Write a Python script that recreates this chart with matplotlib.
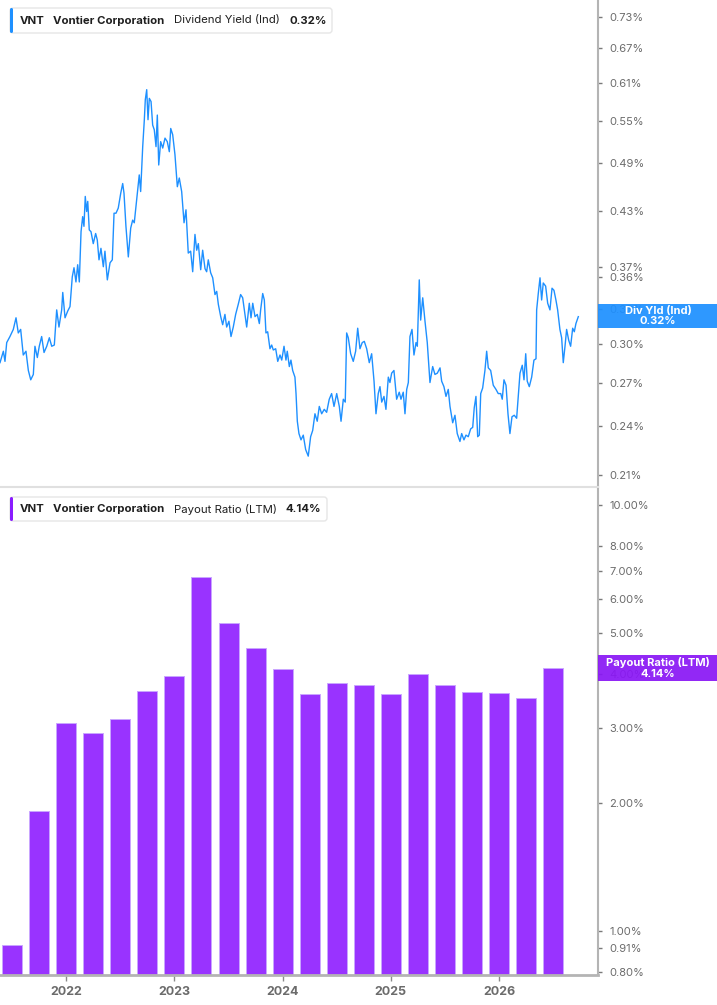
import matplotlib
matplotlib.use("Agg")
import matplotlib.pyplot as plt
from matplotlib.patches import Rectangle, FancyBboxPatch
from matplotlib.ticker import NullLocator
from matplotlib.transforms import IdentityTransform

plt.rcParams['font.family'] = ['Inter', 'DejaVu Sans']

# --- Dividend yield (Ind), % ; dates as decimal years
yield_dates = [
    2021.388, 2021.419, 2021.434, 2021.450, 2021.480, 2021.511, 2021.536, 2021.557, 2021.579, 2021.603,
    2021.628, 2021.650, 2021.672, 2021.696, 2021.711, 2021.733, 2021.751, 2021.773, 2021.795, 2021.820,
    2021.844, 2021.866, 2021.890, 2021.912, 2021.933, 2021.958, 2021.968, 2021.989, 2022.014, 2022.035,
    2022.056, 2022.072, 2022.090, 2022.106, 2022.121, 2022.137, 2022.152, 2022.164, 2022.176, 2022.189,
    2022.199, 2022.213, 2022.229, 2022.250, 2022.272, 2022.287, 2022.303, 2022.321, 2022.343, 2022.358,
    2022.380, 2022.405, 2022.426, 2022.442, 2022.460, 2022.481, 2022.504, 2022.522, 2022.534, 2022.552,
    2022.574, 2022.596, 2022.614, 2022.629, 2022.645, 2022.661, 2022.675, 2022.688, 2022.707, 2022.722,
    2022.731, 2022.744, 2022.756, 2022.768, 2022.784, 2022.799, 2022.814, 2022.830, 2022.842, 2022.855,
    2022.873, 2022.892, 2022.913, 2022.934, 2022.953, 2022.966, 2022.984, 2023.005, 2023.027, 2023.045,
    2023.067, 2023.089, 2023.107, 2023.128, 2023.150, 2023.169, 2023.190, 2023.206, 2023.221, 2023.243,
    2023.261, 2023.283, 2023.298, 2023.313, 2023.335, 2023.354, 2023.375, 2023.391, 2023.406, 2023.428,
    2023.446, 2023.467, 2023.483, 2023.504, 2023.523, 2023.544, 2023.566, 2023.590, 2023.612, 2023.631,
    2023.652, 2023.668, 2023.692, 2023.708, 2023.724, 2023.745, 2023.766, 2023.785, 2023.797, 2023.816,
    2023.831, 2023.846, 2023.862, 2023.883, 2023.899, 2023.914, 2023.936, 2023.955, 2023.976, 2023.992,
    2024.013, 2024.031, 2024.043, 2024.062, 2024.077, 2024.093, 2024.114, 2024.124, 2024.136, 2024.151,
    2024.170, 2024.191, 2024.213, 2024.237, 2024.259, 2024.278, 2024.299, 2024.320, 2024.339, 2024.361,
    2024.385, 2024.407, 2024.431, 2024.453, 2024.475, 2024.500, 2024.524, 2024.540, 2024.561, 2024.579,
    2024.592, 2024.607, 2024.629, 2024.653, 2024.675, 2024.694, 2024.715, 2024.736, 2024.755, 2024.777,
    2024.801, 2024.823, 2024.845, 2024.863, 2024.884, 2024.900, 2024.916, 2024.937, 2024.955, 2024.977,
    2024.992, 2025.008, 2025.029, 2025.054, 2025.078, 2025.094, 2025.115, 2025.131, 2025.147, 2025.162,
    2025.177, 2025.196, 2025.214, 2025.233, 2025.245, 2025.263, 2025.276, 2025.295, 2025.316, 2025.337,
    2025.362, 2025.387, 2025.408, 2025.430, 2025.455, 2025.470, 2025.491, 2025.510, 2025.531, 2025.547,
    2025.572, 2025.593, 2025.614, 2025.639, 2025.655, 2025.676, 2025.695, 2025.716, 2025.738, 2025.757,
    2025.771, 2025.787, 2025.803, 2025.818, 2025.831, 2025.849, 2025.870, 2025.886, 2025.901, 2025.923,
    2025.947, 2025.972, 2025.993, 2026.016, 2026.030, 2026.046, 2026.065, 2026.083, 2026.101, 2026.120,
    2026.141, 2026.163, 2026.178, 2026.194, 2026.215, 2026.231, 2026.247, 2026.261, 2026.280, 2026.302,
    2026.323, 2026.342, 2026.348, 2026.363, 2026.379, 2026.394, 2026.409, 2026.431, 2026.450, 2026.471,
    2026.490, 2026.508, 2026.526, 2026.542, 2026.563, 2026.579, 2026.594, 2026.610, 2026.625, 2026.644,
    2026.662, 2026.681, 2026.696, 2026.711, 2026.733,
]
yield_values = [
    0.285, 0.294, 0.286, 0.301, 0.306, 0.312, 0.322, 0.309, 0.312, 0.291,
    0.294, 0.279, 0.272, 0.276, 0.298, 0.289, 0.298, 0.306, 0.293, 0.298,
    0.305, 0.298, 0.299, 0.329, 0.314, 0.329, 0.345, 0.322, 0.328, 0.332,
    0.360, 0.369, 0.355, 0.372, 0.355, 0.407, 0.424, 0.413, 0.448, 0.430,
    0.442, 0.409, 0.407, 0.394, 0.405, 0.398, 0.377, 0.389, 0.370, 0.386,
    0.357, 0.374, 0.377, 0.428, 0.428, 0.434, 0.452, 0.464, 0.452, 0.413,
    0.380, 0.411, 0.420, 0.417, 0.436, 0.456, 0.475, 0.454, 0.513, 0.552,
    0.583, 0.599, 0.552, 0.585, 0.580, 0.544, 0.537, 0.513, 0.559, 0.488,
    0.520, 0.511, 0.525, 0.520, 0.506, 0.539, 0.530, 0.502, 0.460, 0.471,
    0.454, 0.417, 0.432, 0.384, 0.386, 0.365, 0.404, 0.387, 0.394, 0.367,
    0.387, 0.368, 0.365, 0.377, 0.364, 0.359, 0.343, 0.346, 0.334, 0.323,
    0.316, 0.325, 0.314, 0.319, 0.306, 0.314, 0.325, 0.334, 0.343, 0.340,
    0.325, 0.314, 0.335, 0.322, 0.335, 0.323, 0.325, 0.317, 0.329, 0.344,
    0.338, 0.309, 0.310, 0.296, 0.299, 0.295, 0.296, 0.286, 0.291, 0.287,
    0.298, 0.287, 0.294, 0.282, 0.287, 0.279, 0.274, 0.262, 0.243, 0.235,
    0.231, 0.234, 0.225, 0.221, 0.233, 0.237, 0.248, 0.243, 0.253, 0.248,
    0.251, 0.249, 0.258, 0.262, 0.253, 0.262, 0.253, 0.243, 0.258, 0.256,
    0.309, 0.305, 0.292, 0.286, 0.294, 0.313, 0.296, 0.301, 0.302, 0.296,
    0.285, 0.292, 0.271, 0.248, 0.262, 0.267, 0.256, 0.260, 0.251, 0.274,
    0.270, 0.277, 0.279, 0.258, 0.263, 0.258, 0.263, 0.248, 0.265, 0.270,
    0.306, 0.312, 0.291, 0.301, 0.298, 0.357, 0.320, 0.340, 0.319, 0.301,
    0.270, 0.282, 0.276, 0.277, 0.281, 0.271, 0.267, 0.260, 0.265, 0.253,
    0.242, 0.247, 0.235, 0.230, 0.235, 0.231, 0.234, 0.233, 0.238, 0.239,
    0.252, 0.260, 0.233, 0.234, 0.262, 0.266, 0.279, 0.294, 0.281, 0.279,
    0.268, 0.265, 0.262, 0.262, 0.258, 0.272, 0.268, 0.248, 0.235, 0.246,
    0.247, 0.245, 0.260, 0.277, 0.283, 0.272, 0.292, 0.271, 0.267, 0.274,
    0.287, 0.288, 0.329, 0.344, 0.359, 0.338, 0.354, 0.351, 0.335, 0.329,
    0.349, 0.347, 0.338, 0.329, 0.312, 0.305, 0.285, 0.298, 0.312, 0.303,
    0.298, 0.313, 0.310, 0.317, 0.323,
]
yield_ticks = [0.21, 0.24, 0.27, 0.30, 0.33, 0.36, 0.37, 0.43, 0.49, 0.55, 0.61, 0.67, 0.73]

# --- Payout ratio (LTM), % per quarter
payout_dates = [2021.50, 2021.75, 2022.00, 2022.25, 2022.50, 2022.75, 2023.00,
                2023.25, 2023.50, 2023.75, 2024.00, 2024.25, 2024.50, 2024.75,
                2025.00, 2025.25, 2025.50, 2025.75, 2026.00, 2026.25, 2026.50]
payout_values = [0.926, 1.914, 3.071, 2.914, 3.143, 3.651, 3.960,
                 6.764, 5.274, 4.607, 4.112, 3.598, 3.813, 3.778,
                 3.598, 4.016, 3.772, 3.637, 3.617, 3.521, 4.141]
payout_ticks = [0.80, 0.91, 1.0, 2.0, 3.0, 4.0, 5.0, 6.0, 7.0, 8.0, 10.0]

years = [2022, 2023, 2024, 2025, 2026]

BLUE = '#1e90ff'
PURPLE = '#9933ff'
BADGE_PURPLE = '#8a17f5'
TEXT = '#1f1f1f'
TICK_TXT = '#6b6b6b'
AXIS = '#b4b4b4'

W, H = 717, 1005
fig = plt.figure(figsize=(W / 100, H / 100), dpi=100)


def fx(px):
    return px / W


def fy(py):
    return 1 - py / H


X_MIN, X_MAX = 2021.388, 2026.915

ax1 = fig.add_axes([0, fy(487), fx(598), fy(0) - fy(487)])
ax2 = fig.add_axes([0, fy(975), fx(598), fy(487) - fy(975)])

# top panel: dividend yield line
ax1.plot(yield_dates, yield_values, color=BLUE, lw=1.0)
ax1.set_yscale('log')
ax1.set_ylim(0.2032, 0.7645)
ax1.set_xlim(X_MIN, X_MAX)

# bottom panel: payout ratio bars
PAY_MIN, PAY_MAX = 0.787, 11.02
ax2.bar(payout_dates, [v - PAY_MIN for v in payout_values], bottom=PAY_MIN,
        width=0.185, color=PURPLE, edgecolor='#c9a6ff', linewidth=0.7)
ax2.set_yscale('log')
ax2.set_ylim(PAY_MIN, PAY_MAX)
ax2.set_xlim(X_MIN, X_MAX)

for ax, ticks in ((ax1, yield_ticks), (ax2, payout_ticks)):
    ax.set_facecolor('none')
    ax.yaxis.tick_right()
    ax.yaxis.set_minor_locator(NullLocator())
    ax.set_yticks(ticks)
    ax.set_yticklabels([f"{t:.2f}%" for t in ticks])
    ax.tick_params(axis='y', which='major', direction='out', length=3, width=1,
                   color='#7a7a7a', labelsize=8, labelcolor=TICK_TXT, pad=5)
    ax.spines['left'].set_visible(False)
    ax.spines['top'].set_visible(False)
    ax.spines['right'].set_color(AXIS)
    ax.spines['right'].set_linewidth(1.5)

ax1.set_xticks([])
ax1.spines['bottom'].set_color('#e0e0e0')
ax1.spines['bottom'].set_linewidth(1.5)
ax1.set_zorder(2)

ax2.spines['bottom'].set_color(AXIS)
ax2.spines['bottom'].set_linewidth(2)
ax2.set_xticks(years)
ax2.set_xticklabels([str(y) for y in years], fontweight='bold')
ax2.xaxis.set_minor_locator(NullLocator())
ax2.tick_params(axis='x', direction='out', length=4, width=1, color='#8a8a8a',
                labelsize=9, labelcolor=TICK_TXT, pad=4)

px = IdentityTransform()


def legend_box(x0, y0, x1, y1, accent, parts):
    # y in picture pixels from top
    fig.add_artist(FancyBboxPatch((x0, H - y1), x1 - x0, y1 - y0,
                                  boxstyle='round,pad=0,rounding_size=3',
                                  facecolor='white', edgecolor='#e6e6e6',
                                  linewidth=1, transform=px, zorder=5))
    fig.add_artist(FancyBboxPatch((x0, H - y1), 3, y1 - y0,
                                  boxstyle='round,pad=0,rounding_size=1.5',
                                  facecolor=accent, edgecolor='none',
                                  transform=px, zorder=6))
    yc = fy((y0 + y1) / 2)
    for xt, txt, wt in parts:
        fig.text(fx(xt), yc, txt, ha='left', va='center', fontsize=8.2,
                 color=TEXT, fontweight=wt, zorder=7)


legend_box(10, 8, 332, 33, BLUE,
           [(20, 'VNT', 'bold'), (53, 'Vontier Corporation', 'bold'),
            (174, 'Dividend Yield (Ind)', 'normal'), (289, '0.32%', 'bold')])
legend_box(10, 497, 327, 521, '#8a1cff',
           [(20, 'VNT', 'bold'), (53, 'Vontier Corporation', 'bold'),
            (174, 'Payout Ratio (LTM)', 'normal'), (285, '4.14%', 'bold')])


def badge(y0, y1, color, line1, line2):
    fig.add_artist(Rectangle((fx(598), fy(y1)), fx(717) - fx(598), fy(y0) - fy(y1),
                             transform=fig.transFigure, facecolor=color,
                             edgecolor='none', alpha=0.93, zorder=8))
    xc = fx(658)
    fig.text(xc, fy(y0 + 7), line1, ha='center', va='center', color='white',
             fontsize=8, fontweight='bold', zorder=9)
    fig.text(xc, fy(y1 - 7), line2, ha='center', va='center', color='white',
             fontsize=8, fontweight='bold', zorder=9)


badge(304, 328, BLUE, 'Div Yld (Ind)', '0.32%')
badge(655, 681, BADGE_PURPLE, 'Payout Ratio (LTM)', '4.14%')

fig.savefig('out.png', dpi=100)
